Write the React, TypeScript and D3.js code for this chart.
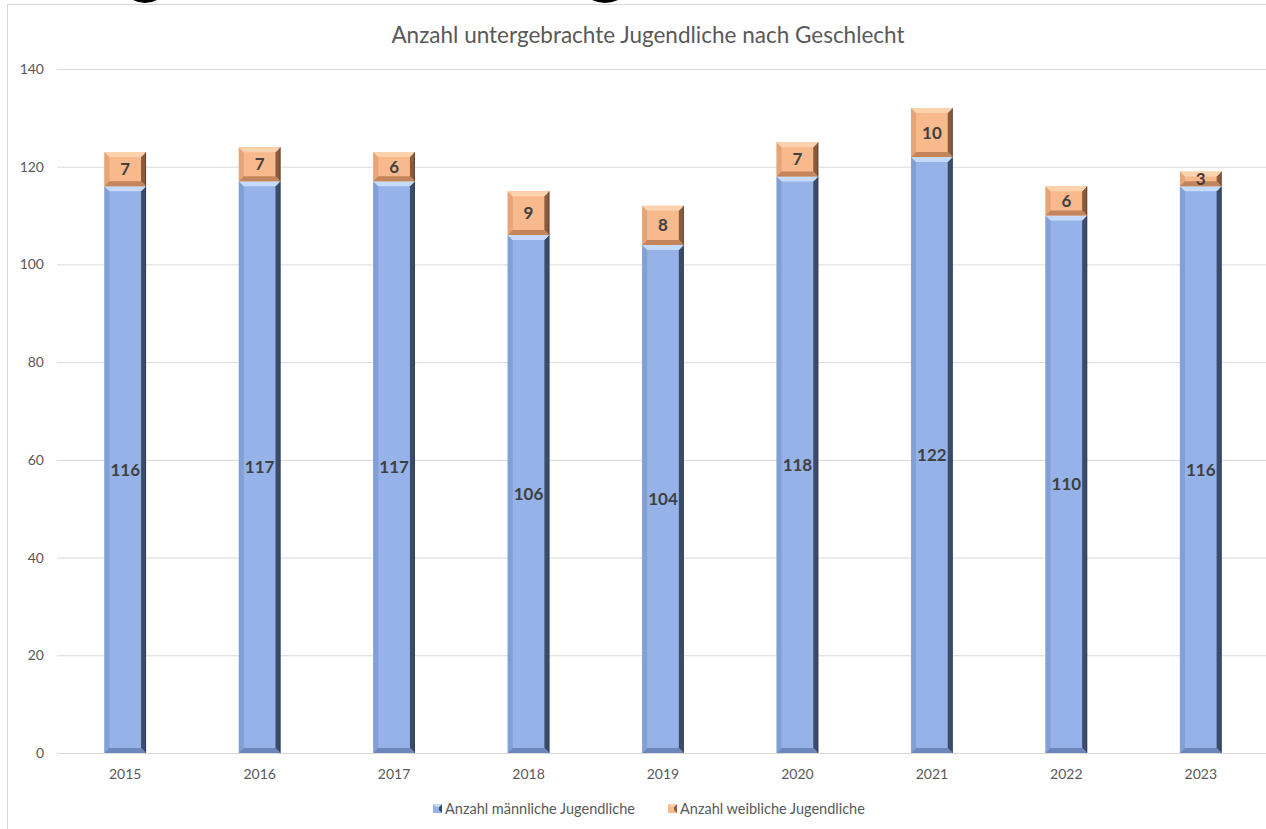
import { scaleBand, scaleLinear } from "d3";

// data
const years = ["2015", "2016", "2017", "2018", "2019", "2020", "2021", "2022", "2023"];
const male = [116, 117, 117, 106, 104, 118, 122, 110, 116];
const female = [7, 7, 6, 9, 8, 7, 10, 6, 3];
const yTicks = [0, 20, 40, 60, 80, 100, 120, 140];
const seriesNames = ["Anzahl männliche Jugendliche", "Anzahl weibliche Jugendliche"];
const title = "Anzahl untergebrachte Jugendliche nach Geschlecht";

const W = 1266;
const H = 829;
const font = "Lato, 'Open Sans', sans-serif";
const grey = "#595959";

const blue = { face: "#95b3e8", top: "#c6dafc", left: "#83a0d6", right: "#3c4b68", bottom: "#6d87bb" };
const orange = { face: "#f8b98c", top: "#fdd3ae", left: "#e6a477", right: "#8a5a3a", bottom: "#c4845c" };

type Pal = typeof blue;

const Bevel = ({ x0, x1, yTop, yBot, pal }: { x0: number; x1: number; yTop: number; yBot: number; pal: Pal }) => {
  const b = Math.min(5, (yBot - yTop) / 2);
  const pts = (a: number[][]) => a.map((p) => p.join(",")).join(" ");
  return (
    <g>
      <rect x={x0} y={yTop} width={x1 - x0} height={yBot - yTop} fill={pal.face} />
      <polygon points={pts([[x0, yTop], [x0 + b, yTop + b], [x0 + b, yBot - b], [x0, yBot]])} fill={pal.left} />
      <polygon points={pts([[x1, yTop], [x1 - b, yTop + b], [x1 - b, yBot - b], [x1, yBot]])} fill={pal.right} />
      <polygon points={pts([[x0, yBot], [x1, yBot], [x1 - b, yBot - b], [x0 + b, yBot - b]])} fill={pal.bottom} />
      <polygon points={pts([[x0, yTop], [x1, yTop], [x1 - b, yTop + b], [x0 + b, yTop + b]])} fill={pal.top} />
      <line x1={x1 - 0.5} x2={x1 - 0.5} y1={yTop} y2={yBot} stroke="#2a3346" strokeOpacity={0.5} />
    </g>
  );
};

export default function App() {
  const x = scaleBand<string>().domain(years).range([58, 1268]).paddingInner(0.69).paddingOuter(0.345);
  const y = scaleLinear().domain([0, 140]).range([753, 69]);
  const bw = x.bandwidth();

  return (
    <svg
      width={W}
      height={H}
      style={{ position: "absolute", left: 0, top: 0, background: "#fff" }}
      fontFamily={font}
    >
      {/* bottoms of a cropped heading above the chart */}
      <path d="M133,0 Q145,6 157,0 Z" fill="#000" />
      <path d="M592,0 Q605,6 618,0 Z" fill="#000" />

      <rect x={7.5} y={4.5} width={W} height={H} fill="#fff" stroke="#d9d9d9" />

      <text x={648} y={43} textAnchor="middle" fontSize={22.5} fill={grey}>{title}</text>

      {yTicks.map((t) => (
        <g key={t}>
          <line x1={57} x2={W} y1={y(t) + 0.5} y2={y(t) + 0.5} stroke="#d9d9d9" />
          <text x={44} y={y(t) + 5} textAnchor="end" fontSize={14} fill={grey}>{t}</text>
        </g>
      ))}

      {years.map((yr, i) => {
        const x0 = x(yr)!;
        const x1 = x0 + bw;
        const m = male[i];
        const f = female[i];
        return (
          <g key={yr}>
            <Bevel x0={x0} x1={x1} yTop={y(m)} yBot={y(0)} pal={blue} />
            <Bevel x0={x0} x1={x1} yTop={y(m + f)} yBot={y(m)} pal={orange} />
            <text x={x0 + bw / 2} y={y(m / 2) + 6} textAnchor="middle" fontSize={17} fontWeight="bold" fill="#404040">{m}</text>
            <text x={x0 + bw / 2} y={y(m + f / 2) + 6} textAnchor="middle" fontSize={17} fontWeight="bold" fill="#404040">{f}</text>
            <text x={x0 + bw / 2} y={779} textAnchor="middle" fontSize={14} fill={grey}>{yr}</text>
          </g>
        );
      })}

      {/* legend */}
      {seriesNames.map((name, i) => {
        const lx = i === 0 ? 433 : 668;
        const pal = i === 0 ? blue : orange;
        return (
          <g key={name}>
            <rect x={lx} y={804} width={9} height={9} fill={pal.face} />
            <polygon points={`${lx + 9},804 ${lx + 6},807 ${lx + 6},810 ${lx + 9},813`} fill={pal.right} />
            <polygon points={`${lx},804 ${lx + 9},804 ${lx + 6},807 ${lx + 3},807`} fill={pal.top} />
            <text x={lx + 12} y={814} fontSize={14.5} fill={grey}>{name}</text>
          </g>
        );
      })}
    </svg>
  );
}
